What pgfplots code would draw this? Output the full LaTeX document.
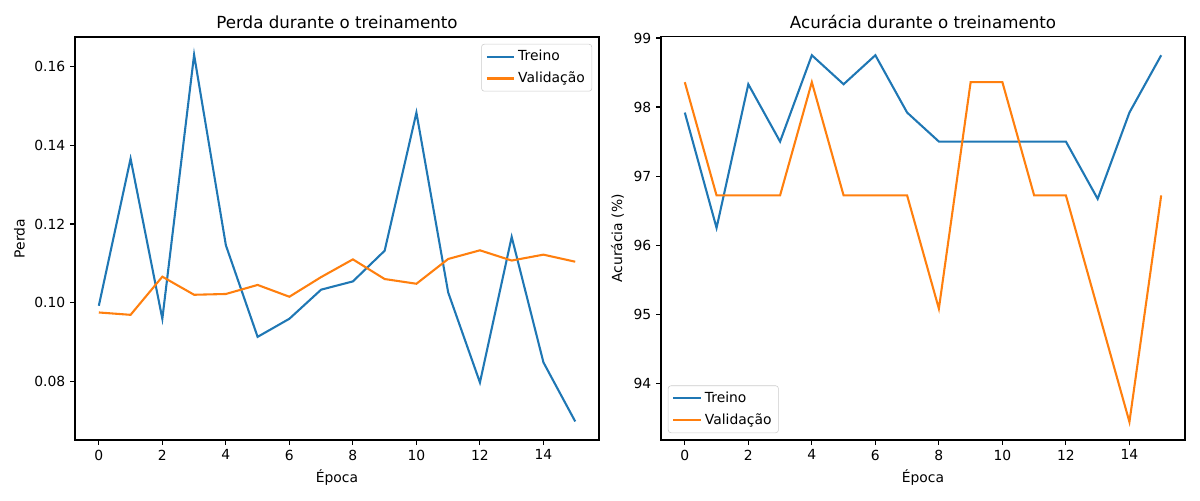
\documentclass[border=0pt]{standalone}
\usepackage{fontspec}
\setmainfont{DejaVu Sans}
\usepackage{pgfplots}
\pgfplotsset{compat=1.18}
\definecolor{mblue}{HTML}{1F77B4}
\definecolor{morange}{HTML}{FF7F0E}
\pgfplotsset{
  mystyle/.style={
    scale only axis,
    width=377.3pt, height=290.2pt,
    xmin=-0.75, xmax=15.75,
    xtick={0,2,...,14},
    xtick pos=bottom, ytick pos=left,
    tick align=outside,
    major tick length=3.5pt,
    tick style={black, line width=0.8pt},
    axis line style={line width=0.8pt},
    every axis plot/.append style={line width=1.5pt},
    /pgf/number format/assume math mode=true,
    ticklabel style={font=\fontsize{10}{12}\selectfont},
    label style={font=\fontsize{10}{12}\selectfont},
    title style={font=\fontsize{12}{14}\selectfont, yshift=-3.5pt},
    xlabel={Época},
    legend cell align=left,
    legend style={draw=black!20, rounded corners=2pt, fill=white, fill opacity=0.8, text opacity=1,
      font=\fontsize{10}{12}\selectfont, inner xsep=3pt, inner ysep=2.5pt, row sep=2.5pt},
    legend image code/.code={\draw[#1] (0cm,0cm) -- (0.7cm,0cm);},
  }
}
\begin{document}
\begin{tikzpicture}
\useasboundingbox (0,0) rectangle (864pt,360pt);
\begin{axis}[mystyle, at={(54pt,43.2pt)}, anchor=south west,
  ymin=0.06508, ymax=0.16754,
  ytick={0.08,0.10,0.12,0.14,0.16},
  yticklabel style={/pgf/number format/fixed, /pgf/number format/fixed zerofill, /pgf/number format/precision=2},
  ylabel={Perda},
  title={Perda durante o treinamento},
  legend style={at={(1,1)}, anchor=north east, xshift=-5pt, yshift=-5pt},
]
\addplot[mblue] coordinates {(0,0.0992) (1,0.1366) (2,0.0959) (3,0.1630) (4,0.1146) (5,0.0913) (6,0.0959) (7,0.1033) (8,0.1054) (9,0.1132) (10,0.1483) (11,0.1026) (12,0.0797) (13,0.1167) (14,0.0848) (15,0.0698)};
\addlegendentry{Treino}
\addplot[morange] coordinates {(0,0.0975) (1,0.0969) (2,0.1066) (3,0.1020) (4,0.1022) (5,0.1045) (6,0.1015) (7,0.1065) (8,0.1110) (9,0.1060) (10,0.1048) (11,0.1111) (12,0.1133) (13,0.1107) (14,0.1122) (15,0.1104)};
\addlegendentry{Validação}
\end{axis}
\begin{axis}[mystyle, at={(475.9pt,43.2pt)}, anchor=south west,
  ymin=93.178, ymax=99.015,
  ytick={94,95,96,97,98,99},
  ylabel={Acurácia (\%)},
  title={Acurácia durante o treinamento},
  legend style={at={(0,0)}, anchor=south west, xshift=5pt, yshift=5pt},
]
\addplot[mblue] coordinates {(0,97.92) (1,96.25) (2,98.33) (3,97.50) (4,98.75) (5,98.33) (6,98.75) (7,97.92) (8,97.50) (9,97.50) (10,97.50) (11,97.50) (12,97.50) (13,96.67) (14,97.92) (15,98.75)};
\addlegendentry{Treino}
\addplot[morange] coordinates {(0,98.36) (1,96.72) (2,96.72) (3,96.72) (4,98.36) (5,96.72) (6,96.72) (7,96.72) (8,95.08) (9,98.36) (10,98.36) (11,96.72) (12,96.72) (13,95.08) (14,93.44) (15,96.72)};
\addlegendentry{Validação}
\end{axis}
\end{tikzpicture}
\end{document}
